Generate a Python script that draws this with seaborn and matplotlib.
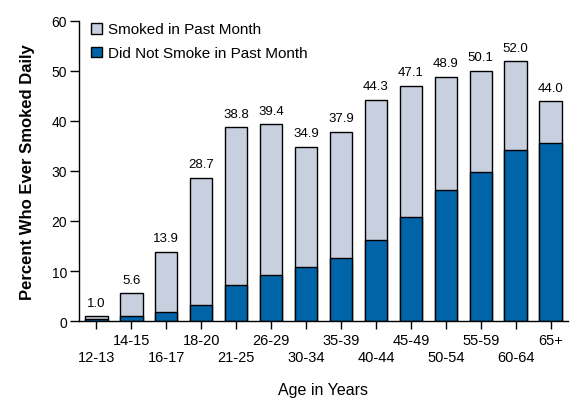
import matplotlib
matplotlib.use("Agg")
import matplotlib.pyplot as plt
import seaborn as sns
import pandas as pd
from matplotlib.patches import Patch

ages = ["12-13", "14-15", "16-17", "18-20", "21-25", "26-29", "30-34",
        "35-39", "40-44", "45-49", "50-54", "55-59", "60-64", "65+"]
total = [1.0, 5.6, 13.9, 28.7, 38.8, 39.4, 34.9, 37.9, 44.3, 47.1, 48.9, 50.1, 52.0, 44.0]
not_past_month = [0.4, 1.0, 1.8, 3.2, 7.2, 9.2, 10.8, 12.6, 16.2, 20.8, 26.2, 29.8, 34.2, 35.6]

light = "#C8D0E0"
blue = "#0064A8"

sns.set_theme(style="white")
plt.rcParams['font.family'] = ['Liberation Sans', 'DejaVu Sans']
plt.rcParams['text.color'] = 'black'
plt.rcParams['axes.labelcolor'] = 'black'
plt.rcParams['xtick.color'] = 'black'
plt.rcParams['ytick.color'] = 'black'

df = pd.DataFrame({"age": ages, "total": total, "blue": not_past_month})

fig = plt.figure(figsize=(5.76, 4.06), dpi=100)
ax = fig.add_axes([79/576, 1 - 322/406, 489/576, 300/406])

sns.barplot(data=df, x="age", y="total", color=light, edgecolor="black",
            linewidth=1, width=0.64, saturation=1, ax=ax)
sns.barplot(data=df, x="age", y="blue", color=blue, edgecolor="black",
            linewidth=1, width=0.64, saturation=1, ax=ax)

for i, v in enumerate(total):
    ax.text(i, v + 1.4, f"{v:.1f}", ha="center", va="bottom", fontsize=9.5, color="black")

ax.set_xlim(-0.5, 13.5)
ax.set_ylim(0, 60)
ax.set_yticks(range(0, 61, 10))
ax.tick_params(axis="y", labelsize=10, length=6.5, width=1, direction="out", left=True, pad=2)
ax.tick_params(axis="x", labelsize=10.5, width=1, direction="out", bottom=True)
for i, t in enumerate(ax.xaxis.get_major_ticks()):
    if i % 2 == 0:
        t.tick1line.set_markersize(14.5)
        t.set_pad(15)
    else:
        t.tick1line.set_markersize(5.8)
        t.set_pad(2.5)

for s in ["top", "right"]:
    ax.spines[s].set_visible(False)
for s in ["left", "bottom"]:
    ax.spines[s].set_color("black")
    ax.spines[s].set_linewidth(1)

ax.set_xlabel("Age in Years", fontsize=11.5, labelpad=13)
ax.set_ylabel("Percent Who Ever Smoked Daily", fontsize=12, fontweight="bold", labelpad=12)

handles = [Patch(facecolor=light, edgecolor="black", linewidth=1, label="Smoked in Past Month"),
           Patch(facecolor=blue, edgecolor="black", linewidth=1, label="Did Not Smoke in Past Month")]
ax.legend(handles=handles, loc="upper left", bbox_to_anchor=(12/489, 0.995), frameon=False,
          fontsize=11, handlelength=0.7, handleheight=0.7, handletextpad=0.4,
          labelspacing=0.65, borderpad=0, borderaxespad=0)

fig.savefig("out.png", dpi=100)
